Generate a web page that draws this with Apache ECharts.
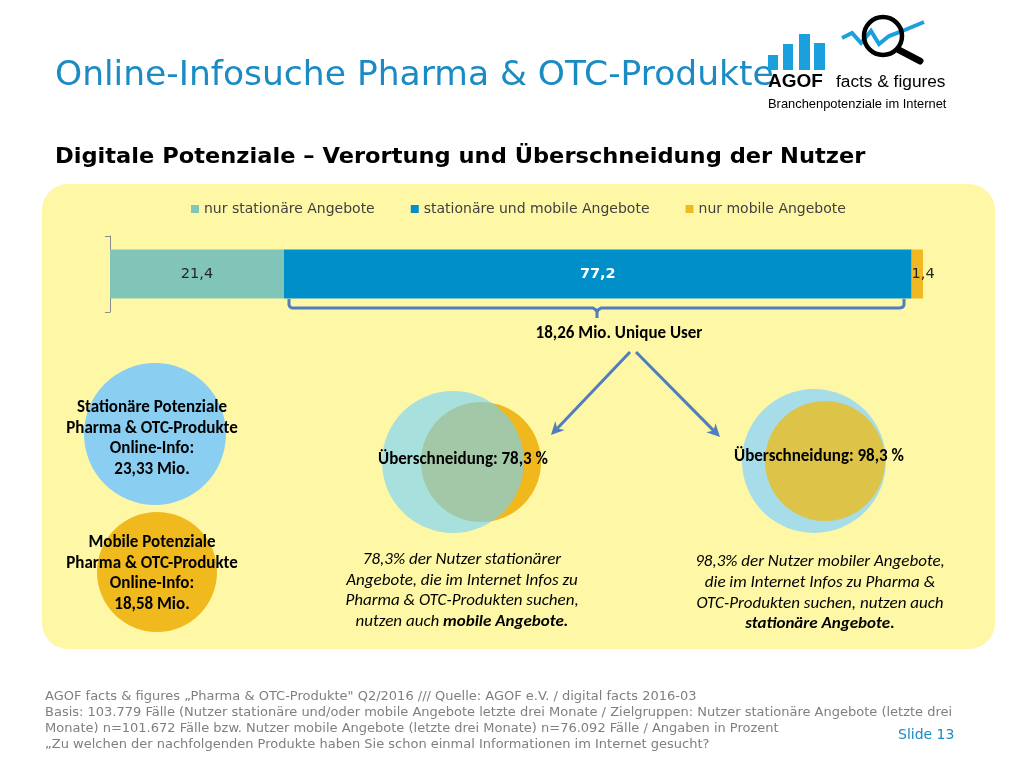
<!DOCTYPE html>
<html>
<head>
<meta charset="utf-8">
<script src="https://cdn.jsdelivr.net/npm/echarts@6/dist/echarts.min.js"></script>
<style>
html,body{margin:0;padding:0;background:#ffffff;}
#chart{width:1024px;height:768px;}
</style>
</head>
<body>
<div id="chart"></div>
<script>
// ---- data ----
const categories = ['Nutzer'];
const seriesNames = ['nur stationäre Angebote', 'stationäre und mobile Angebote', 'nur mobile Angebote'];
const nurStationaer = [21.4];
const stationaerUndMobil = [77.2];
const nurMobil = [1.4];
const uniqueUserLabel = '18,26 Mio. Unique User';
const stationaerPotenzial = ['Stationäre Potenziale', 'Pharma & OTC-Produkte', 'Online-Info:', '23,33 Mio.'];
const mobilPotenzial = ['Mobile Potenziale', 'Pharma & OTC-Produkte', 'Online-Info:', '18,58 Mio.'];
const overlapLabels = ['Überschneidung: 78,3 %', 'Überschneidung: 98,3 %'];
const leftNote = ['78,3% der Nutzer stationärer', 'Angebote, die im Internet Infos zu', 'Pharma & OTC-Produkten suchen,', 'nutzen auch {b|mobile Angebote.}'];
const rightNote = ['98,3% der Nutzer mobiler Angebote,', 'die im Internet Infos zu Pharma &', 'OTC-Produkten suchen, nutzen auch', '{b|stationäre Angebote.}'];
const footerLines = [
  'AGOF facts & figures \u201EPharma & OTC-Produkte" Q2/2016 /// Quelle: AGOF e.V. / digital facts 2016-03',
  'Basis: 103.779 Fälle (Nutzer stationäre und/oder mobile Angebote letzte drei Monate / Zielgruppen: Nutzer stationäre Angebote (letzte drei',
  'Monate) n=101.672 Fälle bzw. Nutzer mobile Angebote (letzte drei Monate) n=76.092 Fälle / Angaben in Prozent',
  '\u201EZu welchen der nachfolgenden Produkte haben Sie schon einmal Informationen im Internet gesucht?'
];

const VERD = "'DejaVu Sans', sans-serif";
const CAL = "Carlito, Lato, 'Open Sans', sans-serif";
const ARIAL = "'Liberation Sans', Arial, sans-serif";
const CALSIZE = 17;
const fmt = v => String(v).replace('.', ',');

const chart = echarts.init(document.getElementById('chart'));

function arrow(x1, y1, x2, y2, color) {
  const dx = x2 - x1, dy = y2 - y1, len = Math.sqrt(dx*dx + dy*dy);
  const ux = dx/len, uy = dy/len, nx = -uy, ny = ux;
  const L = 13, W = 6.5;
  const bx = x2 - ux*L, by = y2 - uy*L;
  const nbx = x2 - ux*(L-4), nby = y2 - uy*(L-4);
  return [
    {type:'line', z:10, shape:{x1:x1, y1:y1, x2:nbx, y2:nby}, style:{stroke:color, lineWidth:3}},
    {type:'polygon', z:10, shape:{points:[[x2,y2],[bx+nx*W,by+ny*W],[nbx,nby],[bx-nx*W,by-ny*W]]}, style:{fill:color}}
  ];
}

function textLines(lines, cx, y0, step, font, color, weight, style, rich) {
  return lines.map((t, i) => ({
    type:'text', z:20,
    x: cx, y: y0 + i*step,
    style:{text:t, textAlign:'center', textVerticalAlign:'middle', fontFamily:font, fontSize:CALSIZE,
      fontWeight:weight, fontStyle:style, fill:color, rich:rich}
  }));
}

const richB = {b:{fontFamily:CAL, fontSize:CALSIZE, fontWeight:'bold', fontStyle:'italic', fill:'#000'}};
const bracketColor = '#4f7dbf';

const graphics = [
  // panel
  {type:'rect', z:-10, shape:{x:42, y:184, width:953, height:465, r:26}, style:{fill:'#fef8a6'}},
  // title
  {type:'text', x:55, y:76, style:{text:'Online-Infosuche Pharma & OTC-Produkte', fontFamily:VERD, fontSize:34.5, fill:'#1b8bc4', textVerticalAlign:'middle'}},
  // subtitle
  {type:'text', x:55, y:158, scaleX:1.1, style:{text:'Digitale Potenziale \u2013 Verortung und Überschneidung der Nutzer', fontFamily:VERD, fontSize:20.5, fontWeight:'bold', fill:'#000', textVerticalAlign:'middle'}},
  // logo bars
  {type:'rect', shape:{x:768, y:55, width:10, height:15}, style:{fill:'#1aa0dc'}},
  {type:'rect', shape:{x:783, y:44, width:10, height:26}, style:{fill:'#1aa0dc'}},
  {type:'rect', shape:{x:799, y:34, width:11, height:36}, style:{fill:'#1aa0dc'}},
  {type:'rect', shape:{x:814, y:43, width:11, height:27}, style:{fill:'#1aa0dc'}},
  {type:'polyline', shape:{points:[[842,38],[852,33],[861,43],[871,31],[879,44],[889,36],[900,32],[924,22]]}, style:{stroke:'#1aa0dc', lineWidth:4, fill:null}},
  {type:'circle', shape:{cx:883, cy:36, r:19}, style:{stroke:'#000', lineWidth:4.5, fill:null}},
  {type:'line', shape:{x1:899, y1:50, x2:920, y2:61}, style:{stroke:'#000', lineWidth:7, lineCap:'round'}},
  {type:'text', x:768, y:82, style:{text:'AGOF', fontFamily:ARIAL, fontSize:19, fontWeight:'bold', fill:'#000', textVerticalAlign:'middle'}},
  {type:'text', x:836, y:82, style:{text:'facts & figures', fontFamily:ARIAL, fontSize:17.3, fill:'#000', textVerticalAlign:'middle'}},
  {type:'text', x:768, y:104, style:{text:'Branchenpotenziale im Internet', fontFamily:ARIAL, fontSize:12.9, fill:'#000', textVerticalAlign:'middle'}},
  // bracket under bar
  {type:'polyline', z:5, shape:{points:[[289,299],[289,305],[290,307],[292,308],[593,308],[596,310],[597,312],[597,318]]}, style:{stroke:bracketColor, lineWidth:3, fill:null}},
  {type:'polyline', z:5, shape:{points:[[597,312],[598,310],[601,308],[900,308],[903,307],[904,305],[904,299]]}, style:{stroke:bracketColor, lineWidth:3, fill:null}},
  {type:'text', z:20, x:619, y:334, style:{text:uniqueUserLabel, textAlign:'center', textVerticalAlign:'middle', fontFamily:CAL, fontSize:CALSIZE, fontWeight:'bold', fill:'#000'}},
  ...arrow(630, 352, 551, 435, bracketColor),
  ...arrow(636, 352, 720, 437, bracketColor),
  // left potential circles
  {type:'circle', shape:{cx:155, cy:434, r:71}, style:{fill:'#8acff2'}},
  {type:'circle', shape:{cx:157, cy:572, r:60}, style:{fill:'#f0ba1e'}},
  ...textLines(stationaerPotenzial, 152, 408, 20.5, CAL, '#000', 'bold', 'normal'),
  ...textLines(mobilPotenzial, 152, 543, 20.5, CAL, '#000', 'bold', 'normal'),
  // venn 1
  {type:'circle', shape:{cx:481, cy:462, r:60}, style:{fill:'#f0b81c'}},
  {type:'circle', shape:{cx:453, cy:462, r:71}, style:{fill:'rgba(115,210,255,0.62)'}},
  // venn 2
  {type:'circle', shape:{cx:814, cy:461, r:72}, style:{fill:'#a6dde8'}},
  {type:'circle', shape:{cx:825, cy:461, r:60}, style:{fill:'rgba(233,190,38,0.82)'}},
  {type:'text', z:20, x:463, y:460, style:{text:overlapLabels[0], textAlign:'center', textVerticalAlign:'middle', fontFamily:CAL, fontSize:CALSIZE, fontWeight:'bold', fill:'#000'}},
  {type:'text', z:20, x:819, y:457, style:{text:overlapLabels[1], textAlign:'center', textVerticalAlign:'middle', fontFamily:CAL, fontSize:CALSIZE, fontWeight:'bold', fill:'#000'}},
  ...textLines(leftNote, 462, 560, 20.5, CAL, '#000', 'normal', 'italic', richB),
  ...textLines(rightNote, 820, 562, 20.7, CAL, '#000', 'normal', 'italic', richB),
  // footer
  ...footerLines.map((t, i) => ({type:'text', x:45, y:697 + i*16, style:{text:t, fontFamily:VERD, fontSize:13, fill:'#7f7f7f', textVerticalAlign:'middle'}})),
  {type:'text', x:898, y:735, style:{text:'Slide 13', fontFamily:VERD, fontSize:14, fill:'#1b8bc4', textVerticalAlign:'middle'}}
];

const labelBase = {show:true, fontFamily:VERD, fontSize:14.5, formatter: p => fmt(p.value)};

chart.setOption({
  animation:false,
  backgroundColor:'#ffffff',
  legend:{
    data:seriesNames, left:186, top:197, itemWidth:8, itemHeight:8, itemGap:36, icon:'rect',
    textStyle:{fontFamily:VERD, fontSize:14, color:'#404040'}
  },
  grid:{left:110, right:101, top:236, height:76},
  xAxis:{type:'value', min:0, max:100, show:false},
  yAxis:{type:'category', data:categories,
    axisLine:{show:true, lineStyle:{color:'#8c8c8c', width:1}},
    axisTick:{show:true, length:5, lineStyle:{color:'#8c8c8c'}},
    axisLabel:{show:false}, splitLine:{show:false}},
  series:[
    {name:seriesNames[0], type:'bar', stack:'a', data:nurStationaer, barWidth:49, itemStyle:{color:'#80c5b8'},
      label:Object.assign({}, labelBase, {position:'inside', color:'#262626'})},
    {name:seriesNames[1], type:'bar', stack:'a', data:stationaerUndMobil, barWidth:49, itemStyle:{color:'#008fc8'},
      label:Object.assign({}, labelBase, {position:'inside', color:'#ffffff', fontWeight:'bold'})},
    {name:seriesNames[2], type:'bar', stack:'a', data:nurMobil, barWidth:49, itemStyle:{color:'#f0b923'},
      label:Object.assign({}, labelBase, {position:'insideLeft', distance:0, color:'#262626'})}
  ],
  graphic:graphics
});
</script>
</body>
</html>
